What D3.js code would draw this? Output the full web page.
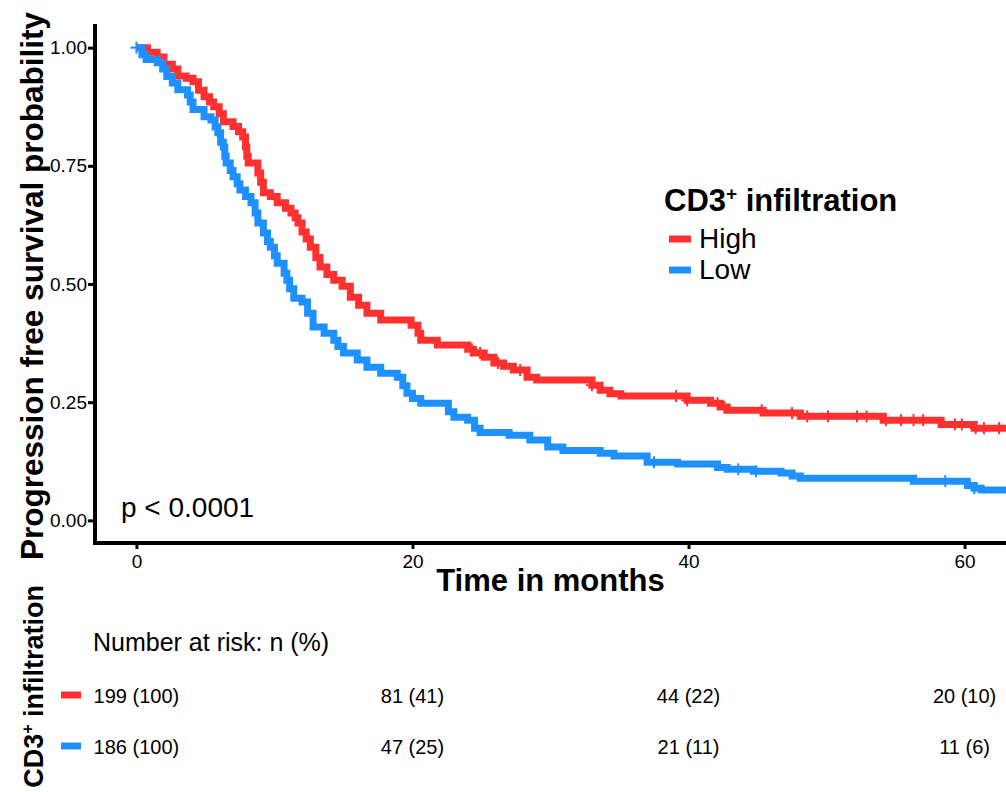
<!DOCTYPE html>
<html>
<head>
<meta charset="utf-8">
<script src="https://cdn.jsdelivr.net/npm/d3@7"></script>
<style>
  body { margin: 0; background: #fff; }
  text { font-family: "Liberation Sans", Arial, Helvetica, sans-serif; }
</style>
</head>
<body>
<div id="chart"></div>
<script>
// Kaplan-Meier curves: step drop times (months) and survival after the drop
const highTime = [0, 0.8, 1.5, 2.0, 2.6, 3.0, 3.6, 4.1, 4.5, 4.9, 5.3, 5.6, 6.0, 6.3, 7.0, 7.4, 7.7, 7.9, 8.0, 8.1,
  8.8, 9.0, 9.2, 9.7, 10.2, 10.8, 11.2, 11.5, 11.7, 12.0, 12.3, 12.6, 13.0, 13.3, 13.8, 14.3, 14.9, 15.5, 16.1, 16.7,
  17.7, 19.9, 20.4, 20.6, 21.8, 24.0, 24.4, 25.2, 25.9, 26.6, 27.3, 28.3, 29.0, 33.0, 33.6, 34.3, 35.1, 39.9, 41.6,
  42.3, 42.8, 45.4, 48.1, 54.1, 58.3, 60.7, 63];
const highSurv = [1.0, 0.99, 0.98, 0.965, 0.955, 0.94, 0.935, 0.928, 0.91, 0.896, 0.885, 0.875, 0.86, 0.843, 0.833, 0.822, 0.811, 0.79, 0.77, 0.756,
  0.735, 0.715, 0.693, 0.685, 0.672, 0.66, 0.65, 0.64, 0.629, 0.61, 0.595, 0.578, 0.556, 0.536, 0.52, 0.508, 0.495, 0.472, 0.455, 0.438,
  0.424, 0.413, 0.396, 0.381, 0.371, 0.362, 0.354, 0.345, 0.333, 0.326, 0.318, 0.303, 0.297, 0.286, 0.275, 0.268, 0.263, 0.254, 0.248,
  0.24, 0.233, 0.227, 0.220, 0.212, 0.203, 0.195, 0.195];

const lowTime = [0, 0.4, 0.7, 1.5, 1.9, 2.2, 2.6, 3.0, 3.7, 3.9, 4.1, 4.9, 5.4, 5.7, 5.9, 6.1, 6.3, 6.4, 6.5, 6.8, 7.0,
  7.3, 7.5, 7.9, 8.3, 8.6, 8.8, 9.2, 9.5, 9.7, 10.0, 10.2, 10.7, 10.9, 11.1, 11.4, 12.0, 12.4, 12.8, 13.6, 14.3, 14.6,
  15.0, 16.0, 16.7, 17.7, 18.9, 19.3, 19.6, 20.0, 20.6, 22.6, 23.0, 24.0, 24.5, 24.9, 27.0, 28.5, 29.8, 30.9, 33.6,
  34.6, 37.0, 39.2, 42.1, 42.8, 44.7, 46.7, 47.5, 48.1, 56.3, 60.2, 60.7, 61.2, 63];
const lowSurv = [1.0, 0.985, 0.975, 0.968, 0.955, 0.939, 0.925, 0.911, 0.9, 0.885, 0.869, 0.854, 0.847, 0.832, 0.82, 0.8, 0.79, 0.77, 0.756, 0.74, 0.727,
  0.712, 0.699, 0.685, 0.672, 0.65, 0.629, 0.608, 0.59, 0.578, 0.56, 0.544, 0.523, 0.508, 0.49, 0.47, 0.462, 0.438, 0.409, 0.396, 0.381, 0.368,
  0.354, 0.339, 0.324, 0.311, 0.303, 0.285, 0.269, 0.258, 0.248, 0.23, 0.218, 0.212, 0.195, 0.186, 0.18, 0.17, 0.155, 0.148, 0.142,
  0.136, 0.123, 0.119, 0.112, 0.108, 0.104, 0.1, 0.094, 0.089, 0.083, 0.074, 0.068, 0.064, 0.064];

// censoring marks (months)
const highCensor = [24.3, 24.9, 26.2, 27.8, 33.0, 39.1, 39.9, 42.1, 42.6, 45.3, 47.5, 48.6, 50.1, 52.2, 52.9,
  54.3, 55.4, 56.3, 57.0, 59.3, 59.8, 60.8, 61.4, 62.5];
const lowCensor = [0, 37.5, 43.6, 44.9, 58.6, 60.7];

const xTicks = [0, 20, 40, 60];
const yTicks = [0, 0.25, 0.5, 0.75, 1.0];
const groups = ['High', 'Low'];
const colors = ['#FF3030', '#1E90FF'];
const riskHigh = ['199 (100)', '81 (41)', '44 (22)', '20 (10)'];
const riskLow = ['186 (100)', '47 (25)', '21 (11)', '11 (6)'];

const W = 1006, H = 792;
const svg = d3.select('#chart').append('svg')
  .attr('width', W).attr('height', H);

const x = d3.scaleLinear().domain([-3, 63]).range([95, 1006]);
const y = d3.scaleLinear().domain([-0.05, 1.05]).range([544, 24]);

const series = [
  { name: 'High', time: highTime, surv: highSurv, censor: highCensor, color: colors[0] },
  { name: 'Low', time: lowTime, surv: lowSurv, censor: lowCensor, color: colors[1] }
];

const line = d3.line()
  .x(d => x(d[0]))
  .y(d => y(d[1]))
  .curve(d3.curveStepAfter);

svg.append('clipPath').attr('id', 'clip')
  .append('rect').attr('x', 95).attr('y', 0).attr('width', W - 95).attr('height', 544);

const plot = svg.append('g').attr('clip-path', 'url(#clip)');

series.forEach(s => {
  const pts = s.time.map((t, i) => [t, s.surv[i]]);
  plot.append('path')
    .attr('d', line(pts))
    .attr('fill', 'none')
    .attr('stroke', s.color)
    .attr('stroke-width', 7)
    .attr('stroke-linejoin', 'miter');

  const bis = d3.bisector(d => d).right;
  s.censor.forEach(c => {
    const v = s.surv[Math.max(0, bis(s.time, c) - 1)];
    const cx = x(c), cy = y(v);
    plot.append('line').attr('x1', cx).attr('x2', cx).attr('y1', cy - 6).attr('y2', cy + 6)
      .attr('stroke', s.color).attr('stroke-width', 2);
    plot.append('line').attr('x1', cx - 6).attr('x2', cx + 6).attr('y1', cy).attr('y2', cy)
      .attr('stroke', s.color).attr('stroke-width', 2);
  });
});

// axes
const xAxis = svg.append('g').attr('transform', 'translate(0,543)')
  .call(d3.axisBottom(x).tickValues(xTicks).tickSize(6).tickPadding(3));
const yAxis = svg.append('g').attr('transform', 'translate(95,0)')
  .call(d3.axisLeft(y).tickValues(yTicks).tickFormat(d3.format('.2f')).tickSize(7).tickPadding(1));

[xAxis, yAxis].forEach(a => {
  a.select('.domain').remove();
  a.selectAll('.tick line').attr('stroke', '#000').attr('stroke-width', 3);
  a.selectAll('.tick text').attr('fill', '#000').style('font-size', '19px')
    .style('font-family', '"Liberation Sans", Arial, sans-serif');
});
xAxis.selectAll('.tick text').attr('dy', '0.85em');

svg.append('line').attr('x1', 95).attr('x2', 95).attr('y1', 24).attr('y2', 545)
  .attr('stroke', '#000').attr('stroke-width', 4);
svg.append('line').attr('x1', 93).attr('x2', W).attr('y1', 543).attr('y2', 543)
  .attr('stroke', '#000').attr('stroke-width', 4);

// axis titles
svg.append('text')
  .attr('x', (95 + 1006) / 2).attr('y', 591)
  .attr('text-anchor', 'middle')
  .style('font-size', '31px').style('font-weight', 'bold')
  .text('Time in months');

svg.append('text')
  .attr('transform', 'translate(43,' + ((24 + 544) / 2 + 2) + ') rotate(-90)')
  .attr('text-anchor', 'middle')
  .style('font-size', '31.5px').style('font-weight', 'bold')
  .text('Progression free survival probability');

// p value
svg.append('text').attr('x', 121).attr('y', 517)
  .style('font-size', '28px').text('p < 0.0001');

// legend
const legendTitle = svg.append('text').attr('x', 664).attr('y', 211)
  .style('font-size', '31px').style('font-weight', 'bold');
legendTitle.append('tspan').text('CD3');
legendTitle.append('tspan').attr('dy', -11).style('font-size', '19px').text('+');
legendTitle.append('tspan').attr('dy', 11).text(' infiltration');

groups.forEach((g, i) => {
  const ly = 239 + i * 31;
  svg.append('line').attr('x1', 669).attr('x2', 691).attr('y1', ly).attr('y2', ly)
    .attr('stroke', colors[i]).attr('stroke-width', 7);
  svg.append('text').attr('x', 699).attr('y', ly + 9)
    .style('font-size', '28px').text(g);
});

// risk table
svg.append('text').attr('x', 93).attr('y', 651)
  .style('font-size', '25px').text('Number at risk: n (%)');

[riskHigh, riskLow].forEach((row, i) => {
  const ry = 695 + i * 51;
  svg.append('line').attr('x1', 61).attr('x2', 81).attr('y1', ry).attr('y2', ry)
    .attr('stroke', colors[i]).attr('stroke-width', 7);
  svg.selectAll(null).data(row).enter().append('text')
    .attr('x', (d, j) => x(xTicks[j]))
    .attr('y', ry + 8)
    .attr('text-anchor', 'middle')
    .style('font-size', '20px')
    .text(d => d);
});

const riskTitle = svg.append('text')
  .attr('transform', 'translate(43,585) rotate(-90)')
  .attr('text-anchor', 'end')
  .style('font-size', '27px').style('font-weight', 'bold');
riskTitle.append('tspan').text('CD3');
riskTitle.append('tspan').attr('dy', -10).style('font-size', '16px').text('+');
riskTitle.append('tspan').attr('dy', 10).text(' infiltration');
</script>
</body>
</html>
